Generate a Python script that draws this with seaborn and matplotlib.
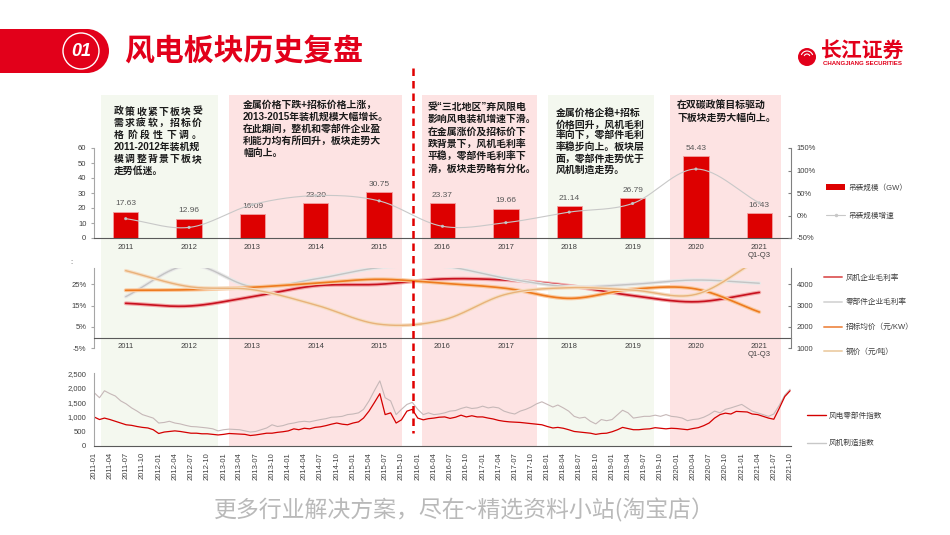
"""风电板块历史复盘 - 吊装规模 / 毛利率与价格 / 指数走势"""
import numpy as np
import pandas as pd
import matplotlib
matplotlib.use('Agg')
import matplotlib.pyplot as plt
import matplotlib.patheffects as pe
from matplotlib.patches import Rectangle, Circle, Patch, Arc
from matplotlib.lines import Line2D
from matplotlib.ticker import FuncFormatter
import seaborn as sns

# ---------------- data ----------------
years = ['2011', '2012', '2013', '2014', '2015', '2016', '2017', '2018',
         '2019', '2020', '2021\nQ1-Q3']
install_gw = [17.63, 12.96, 16.09, 23.20, 30.75, 23.37, 19.66, 21.14, 26.79, 54.43, 16.43]
install_growth = [-7.0, -26.5, 24.2, 44.2, 32.5, -24.0, -15.9, 7.5, 26.7, 103.2, 28.0]

# 毛利率 (%)
gm_turbine = [16.1, 14.8, 19.2, 24.3, 25.0, 27.5, 27.0, 24.3, 19.7, 16.8, 21.2]
gm_parts = [19.2, 34.0, 23.9, 27.5, 32.8, 33.5, 27.8, 23.9, 25.0, 27.0, 25.5]
# 价格
bid_price = [3720, 3745, 3860, 4050, 4235, 4050, 3810, 3340, 3770, 3780, 2700]
steel_price = [4640, 3890, 3750, 3030, 2130, 2320, 3530, 3840, 3730, 3530, 5200]

# 指数 (月度)
index_months = pd.date_range('2011-01-01', periods=130, freq='MS')
parts_index = [
    1000, 910, 960, 910, 850, 790, 730, 710, 670, 640, 620, 560,
    430, 480, 500, 520, 500, 470, 440, 440, 420, 420, 400, 380,
    400, 430, 420, 410, 400, 360, 380, 410, 440, 440, 470, 490,
    520, 590, 560, 610, 590, 640, 660, 700, 750, 790, 750, 730,
    790, 830, 960, 1200, 1490, 1800, 1080, 1140, 790, 900, 1200, 1260,
    960, 900, 940, 960, 990, 1000, 950, 990, 1060, 1000, 1040, 1000,
    1000, 960, 930, 880, 850, 830, 820, 810, 790, 770, 750, 730,
    670, 620, 640, 610, 560, 500, 480, 460, 440, 400, 430, 440,
    490, 560, 640, 600, 560, 560, 580, 590, 630, 610, 590, 610,
    600, 580, 560, 600, 630, 700, 790, 960, 1080, 1130, 1100, 1190,
    1180, 1170, 1100, 1080, 1020, 960, 920, 1300, 1700, 1900]
turbine_index = [
    1840, 1660, 1900, 1800, 1720, 1550, 1450, 1310, 1200, 1080, 1020, 960,
    790, 810, 850, 790, 760, 710, 670, 660, 640, 620, 590, 520,
    560, 580, 570, 560, 520, 480, 500, 560, 620, 730, 670, 700,
    760, 790, 830, 850, 830, 870, 910, 940, 990, 1000, 1020, 1080,
    1100, 1140, 1260, 1550, 1900, 2240, 1660, 1550, 1080, 1260, 1430, 1500,
    1260, 1080, 1140, 1080, 1100, 1140, 1200, 1220, 1290, 1340, 1290, 1310,
    1370, 1310, 1340, 1310, 1200, 1140, 1100, 1200, 1260, 1340, 1450, 1520,
    1430, 1340, 1410, 1310, 1200, 1020, 960, 990, 850, 760, 910, 870,
    910, 1080, 1230, 1140, 960, 990, 1020, 1020, 1060, 1020, 1080, 1020,
    1000, 960, 870, 910, 930, 990, 1080, 1200, 1140, 1260, 1310, 1370,
    1430, 1310, 1200, 1140, 1080, 1020, 1100, 1400, 1750, 1950]

notes = [
    ['政策收紧下板块受', '需求疲软，招标价', '格阶段性下调。', '2011-2012年装机规',
     '模调整背景下板块', '走势低迷。'],
    ['金属价格下跌+招标价格上涨，', '2013-2015年装机规模大幅增长。', '在此期间，整机和零部件企业盈',
     '利能力均有所回升，板块走势大', '幅向上。'],
    ['受“三北地区”弃风限电', '影响风电装机增速下滑。', '在金属涨价及招标价下', '跌背景下，风机毛利率',
     '平稳，零部件毛利率下', '滑，板块走势略有分化。'],
    ['金属价格企稳+招标', '价格回升，风机毛利', '率向下，零部件毛利', '率稳步向上。板块层',
     '面，零部件走势优于', '风机制造走势。'],
    ['在双碳政策目标驱动', '下板块走势大幅向上。'],
]

RED = '#E2001A'
BAR_RED = '#DD0000'
GRAY_TXT = '#404040'
PINK = '#FDE3E3'
GREEN = '#F4F8EF'

sns.set_style('white')
plt.rcParams['font.family'] = ['Liberation Sans', 'Noto Sans CJK SC']
plt.rcParams['axes.unicode_minus'] = False


def smooth(vals, n=30):
    """Catmull-Rom curve through the points (like a smoothed Excel line)."""
    y = np.asarray(vals, float)
    p = np.concatenate([[2 * y[0] - y[1]], y, [2 * y[-1] - y[-2]]])
    t = np.linspace(0, 1, n, endpoint=False)
    xs, ys = [], []
    for i in range(len(y) - 1):
        p0, p1, p2, p3 = p[i:i + 4]
        seg = 0.5 * (2 * p1 + (-p0 + p2) * t + (2 * p0 - 5 * p1 + 4 * p2 - p3) * t ** 2
                     + (-p0 + 3 * p1 - 3 * p2 + p3) * t ** 3)
        xs.append(i + t)
        ys.append(seg)
    xs.append([len(y) - 1])
    ys.append([y[-1]])
    return np.concatenate(xs), np.concatenate(ys)


def fx(px):
    return px / 950


def fy(px):
    return 1 - px / 535


fig = plt.figure(figsize=(9.5, 5.35), dpi=100)
fig.patch.set_facecolor('white')

# background layer in pixel units
bg = fig.add_axes([0, 0, 1, 1], zorder=-1)
bg.set_xlim(0, 950)
bg.set_ylim(535, 0)
bg.axis('off')

for x0, x1, c in [(101, 218, GREEN), (229, 402, PINK), (422, 537, PINK),
                  (548, 654, GREEN), (670, 781, PINK)]:
    bg.add_patch(Rectangle((x0, 95), x1 - x0, 351, facecolor=c, edgecolor='none'))

# header
bg.add_patch(Rectangle((-2, 29), 90, 44, facecolor=RED, edgecolor='none'))
bg.add_patch(Circle((87, 51), 22, facecolor=RED, edgecolor='none'))
bg.add_patch(Circle((81, 51), 18, fill=False, edgecolor='white', lw=1.0))
bg.text(81, 51.5, '01', color='white', fontsize=13, fontweight='bold', style='italic',
        ha='center', va='center')
bg.text(124, 51, '风电板块历史复盘', color=RED, fontsize=21.5, fontweight='bold',
        ha='left', va='center', family=['Noto Sans CJK SC'])
# logo
bg.add_patch(Circle((807, 57), 9, facecolor=RED, edgecolor='none'))
for r in (3, 6):
    bg.add_patch(Arc((807, 57), 2 * r, 2 * r, theta1=200, theta2=340, color='white', lw=0.8))
bg.text(821, 50, '长江证券', color=RED, fontsize=15, fontweight='bold', ha='left', va='center',
        family=['Noto Sans CJK SC'])
bg.text(823, 63.5, 'CHANGJIANG SECURITIES', color=RED, fontsize=4.4, fontweight='bold',
        ha='left', va='center')

# notes (box 1 is justified in the original)
boxes = [(114, 111.5, 11.8, 88), (243, 105, 12, None), (428, 106.5, 12.5, None),
         (556, 113, 11.4, None), (677, 105, 13, None)]
for lines, (x, y0, step, just_w) in zip(notes, boxes):
    for i, line in enumerate(lines):
        y = y0 + i * step
        cjk_only = all(ord(ch) > 0x2000 for ch in line)
        if just_w and cjk_only and i < len(lines) - 1:
            cw = 9.8
            gap = (just_w - cw) / (len(line) - 1)
            for k, ch in enumerate(line):
                bg.text(x + cw / 2 + k * gap, y, ch, fontsize=7.1, fontweight='bold',
                        color='#1A1A1A', ha='center', va='center')
        else:
            bg.text(x, y, line, fontsize=7.1, fontweight='bold', color='#1A1A1A',
                    ha='left', va='center')

bg.text(71, 263, ':', fontsize=5.5, color=GRAY_TXT, ha='center', va='center')
bg.text(464, 510, '更多行业解决方案，尽在~精选资料小站(淘宝店）', fontsize=16.5, color='#B9B9B9',
        ha='center', va='center', family=['Noto Sans CJK SC'], fontweight='light')

# ---------------- top panel: 吊装规模 ----------------
ax1 = fig.add_axes([fx(94), fy(238), fx(697), 90 / 535])
ax1.set_facecolor('none')
sns.barplot(x=years, y=install_gw, color=BAR_RED, saturation=1, width=0.4, ax=ax1,
            edgecolor='#F2A0A0', linewidth=0.6)
ax1.bar_label(ax1.containers[0], fmt='%.2f', padding=3, fontsize=6, color='#595959')
ax1.set_ylim(0, 60)
ax1.set_yticks(range(0, 61, 10))

ax1b = ax1.twinx()
gx, gy = smooth(install_growth)
sns.lineplot(x=gx, y=gy, ax=ax1b, color='#C8C8C8', lw=0.8, estimator=None, sort=False)
sns.scatterplot(x=list(range(len(years))), y=install_growth, ax=ax1b, color='#BDBDBD',
                s=5, edgecolor='none')
ax1b.set_ylim(-50, 150)
ax1b.set_yticks([-50, 0, 50, 100, 150])
ax1b.yaxis.set_major_formatter(FuncFormatter(lambda v, p: f'{v:.0f}%'))

# ---------------- middle panel: 毛利率 / 价格 ----------------
ax2 = fig.add_axes([fx(94), fy(348.3), fx(697), 80 / 535])
ax2.set_facecolor('none')
for vals, col, glow, lw in [(gm_turbine, '#C8101E', '#F2A7A7', 1.2),
                            (gm_parts, '#C4C4C4', '#E8E8E8', 1.0)]:
    sx, sy = smooth(vals)
    sns.lineplot(x=sx, y=sy, ax=ax2, color=col, lw=lw, estimator=None, sort=False,
                 path_effects=[pe.Stroke(linewidth=lw + 1.6, foreground=glow), pe.Normal()])
ax2.set_ylim(-5, 32.5)
ax2.set_yticks([-5, 5, 15, 25])
ax2.yaxis.set_major_formatter(FuncFormatter(lambda v, p: f'{v:.0f}%'))

ax2b = ax2.twinx()
for vals, col, glow, lw in [(bid_price, '#EE7A1E', '#F9C9A0', 1.2),
                            (steel_price, '#E9B27A', '#F6DEC4', 1.0)]:
    sx, sy = smooth(vals)
    sns.lineplot(x=sx, y=sy, ax=ax2b, color=col, lw=lw, estimator=None, sort=False,
                 path_effects=[pe.Stroke(linewidth=lw + 1.6, foreground=glow), pe.Normal()])
ax2b.set_ylim(1000, 4750)
ax2b.set_yticks([1000, 2000, 3000, 4000])

# ---------------- bottom panel: 指数 ----------------
ax3 = fig.add_axes([fx(94), fy(446), fx(697), 72.7 / 535])
ax3.set_facecolor('none')
df_idx = pd.DataFrame({'date': index_months, 'parts': parts_index, 'turbine': turbine_index})
sns.lineplot(data=df_idx, x='date', y='turbine', ax=ax3, color='#C6B8B8', lw=0.8)
sns.lineplot(data=df_idx, x='date', y='parts', ax=ax3, color='#D40000', lw=0.9)
ax3.set_xlim(pd.Timestamp('2011-01-01'), pd.Timestamp('2021-10-06'))
ax3.set_ylim(0, 2500)
ax3.set_yticks(range(0, 2501, 500))
ax3.yaxis.set_major_formatter(FuncFormatter(lambda v, p: f'{v:,.0f}'))
qticks = pd.date_range('2011-01-01', '2021-10-01', freq='QS')
ax3.set_xticks(qticks)
ax3.set_xticklabels([d.strftime('%Y-%m') for d in qticks], rotation=90)

# ---------------- axis styling ----------------
for a in (ax1, ax2):
    a.set_xlim(-0.5, 10.5)
    a.set_xticks(range(len(years)))
    a.set_xticklabels(years)
    a.set_xticks(np.arange(-0.5, 11, 1), minor=True)
    a.tick_params(axis='x', which='major', length=0, pad=4)
    a.tick_params(axis='x', which='minor', length=3, color='#7F7F7F', direction='out')
for a in (ax1b, ax2b):
    a.set_xlim(-0.5, 10.5)
ax2.spines['bottom'].set_position(('data', 0))

for a in (ax1, ax2, ax3):
    a.spines['top'].set_visible(False)
    a.spines['right'].set_visible(False)
    a.spines['left'].set_color('#A6A6A6')
    a.spines['bottom'].set_color('#595959')
    a.spines['left'].set_linewidth(0.8)
    a.spines['bottom'].set_linewidth(0.8)
    a.tick_params(axis='y', length=2.5, color='#A6A6A6', direction='out', pad=3)
    a.tick_params(labelsize=5.5, labelcolor=GRAY_TXT)
    a.set_xlabel('')
    a.set_ylabel('')
for a in (ax1b, ax2b):
    for s in ('top', 'left', 'bottom'):
        a.spines[s].set_visible(False)
    a.spines['right'].set_color('#808080')
    a.spines['right'].set_linewidth(0.8)
    a.tick_params(axis='y', length=2, color='#808080', direction='in', pad=4,
                  labelsize=5.5, labelcolor=GRAY_TXT)
    a.set_ylabel('')
ax3.tick_params(axis='x', length=2.5, color='#595959', direction='out', pad=2, labelsize=5.5)

# ---------------- legends ----------------
leg_kw = dict(frameon=False, fontsize=5.5, borderpad=0, borderaxespad=0,
              handletextpad=0.4, loc='upper left', labelcolor=GRAY_TXT)
fig.legend(handles=[Patch(facecolor=BAR_RED, edgecolor='none'),
                    Line2D([], [], color='#C8C8C8', lw=0.8, marker='o', markersize=1.5)],
           labels=['吊装规模（GW）', '吊装规模增速'], bbox_to_anchor=(fx(826), fy(184)),
           handlelength=2.5, labelspacing=2.7, **leg_kw)
fig.legend(handles=[Line2D([], [], color='#E06666', lw=1.4),
                    Line2D([], [], color='#D9D9D9', lw=1.4),
                    Line2D([], [], color='#F0965A', lw=1.4),
                    Line2D([], [], color='#EED2AE', lw=1.4)],
           labels=['风机企业毛利率', '零部件企业毛利率', '招标均价（元/KW）', '钢价（元/吨）'],
           bbox_to_anchor=(fx(824), fy(274)), handlelength=2.4, labelspacing=2.25, **leg_kw)
fig.legend(handles=[Line2D([], [], color='#D40000', lw=1.0),
                    Line2D([], [], color='#C8C8C8', lw=1.0)],
           labels=['风电零部件指数', '风机制造指数'], bbox_to_anchor=(fx(807), fy(412.5)),
           handlelength=2.5, labelspacing=2.6, **leg_kw)

# dashed divider on top of everything
top = fig.add_axes([0, 0, 1, 1], zorder=10)
top.set_xlim(0, 950)
top.set_ylim(535, 0)
top.axis('off')
top.add_line(Line2D([412.5, 412.5], [68, 433], color='#E00000', lw=1.8,
                    linestyle=(0, (3, 2))))

fig.savefig('out.png', dpi=100)
